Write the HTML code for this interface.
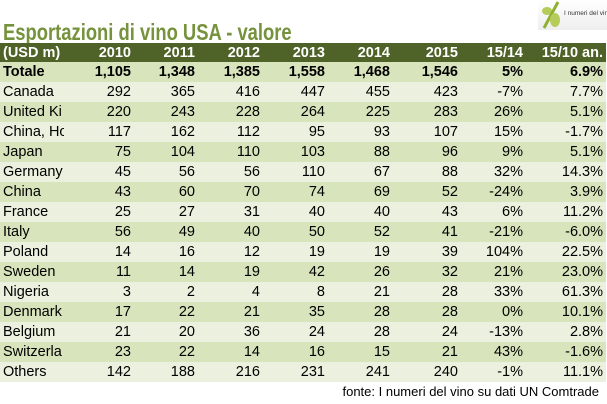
<!DOCTYPE html>
<html><head><meta charset="utf-8"><style>
body{margin:0;width:607px;height:404px;background:#fff;position:relative;overflow:hidden;font-family:"Liberation Sans",sans-serif}
.title{position:absolute;left:3px;top:19px;font-size:23px;font-weight:bold;color:#76923c;transform:scaleX(0.8);transform-origin:left;white-space:nowrap}
table{position:absolute;left:0;top:43px;border-collapse:collapse;width:606px;table-layout:fixed}
td{height:20px;padding:0 3px;font-size:14.5px;text-align:right;white-space:nowrap;overflow:hidden;box-sizing:border-box}
td:first-child{text-align:left;padding-left:3px;text-overflow:clip}
tr.h td{background:#4f6228;color:#fff;font-weight:bold;height:19px}
tr.a td{background:#d8e4bc}
tr.b td{background:#ebf1de}
tr.t td{font-weight:bold}
.src{position:absolute;right:8px;top:384px;font-size:13px;color:#000}
.logo{position:absolute;left:538px;top:0;width:69px;height:30px;background:linear-gradient(#fff,#eee)}
</style></head><body>
<div class="logo"><svg width="69" height="30"><ellipse cx="9" cy="11" rx="5" ry="4" fill="#b5cc5a"/><line x1="6" y1="28" x2="20" y2="2" stroke="#8fb030" stroke-width="3"/><ellipse cx="17" cy="20" rx="5" ry="7" fill="#b5cc5a"/><text x="26" y="15" font-size="6.5" font-family="Liberation Sans" fill="#333">I numeri del vino</text></svg></div>
<div class="title">Esportazioni di vino USA - valore</div>
<table>
<colgroup><col style="width:64px"><col style="width:70px"><col style="width:64px"><col style="width:65px"><col style="width:65px"><col style="width:65px"><col style="width:68px"><col style="width:65px"><col style="width:80px"></colgroup>
<tr class="h"><td>(USD m)</td><td>2010</td><td>2011</td><td>2012</td><td>2013</td><td>2014</td><td>2015</td><td>15/14</td><td>15/10 an.</td></tr>
<tr class="a t"><td>Totale</td><td>1,105</td><td>1,348</td><td>1,385</td><td>1,558</td><td>1,468</td><td>1,546</td><td>5%</td><td>6.9%</td></tr>
<tr class="b"><td>Canada</td><td>292</td><td>365</td><td>416</td><td>447</td><td>455</td><td>423</td><td>-7%</td><td>7.7%</td></tr>
<tr class="a"><td>United Ki</td><td>220</td><td>243</td><td>228</td><td>264</td><td>225</td><td>283</td><td>26%</td><td>5.1%</td></tr>
<tr class="b"><td>China, Ho</td><td>117</td><td>162</td><td>112</td><td>95</td><td>93</td><td>107</td><td>15%</td><td>-1.7%</td></tr>
<tr class="a"><td>Japan</td><td>75</td><td>104</td><td>110</td><td>103</td><td>88</td><td>96</td><td>9%</td><td>5.1%</td></tr>
<tr class="b"><td>Germany</td><td>45</td><td>56</td><td>56</td><td>110</td><td>67</td><td>88</td><td>32%</td><td>14.3%</td></tr>
<tr class="a"><td>China</td><td>43</td><td>60</td><td>70</td><td>74</td><td>69</td><td>52</td><td>-24%</td><td>3.9%</td></tr>
<tr class="b"><td>France</td><td>25</td><td>27</td><td>31</td><td>40</td><td>40</td><td>43</td><td>6%</td><td>11.2%</td></tr>
<tr class="a"><td>Italy</td><td>56</td><td>49</td><td>40</td><td>50</td><td>52</td><td>41</td><td>-21%</td><td>-6.0%</td></tr>
<tr class="b"><td>Poland</td><td>14</td><td>16</td><td>12</td><td>19</td><td>19</td><td>39</td><td>104%</td><td>22.5%</td></tr>
<tr class="a"><td>Sweden</td><td>11</td><td>14</td><td>19</td><td>42</td><td>26</td><td>32</td><td>21%</td><td>23.0%</td></tr>
<tr class="b"><td>Nigeria</td><td>3</td><td>2</td><td>4</td><td>8</td><td>21</td><td>28</td><td>33%</td><td>61.3%</td></tr>
<tr class="a"><td>Denmark</td><td>17</td><td>22</td><td>21</td><td>35</td><td>28</td><td>28</td><td>0%</td><td>10.1%</td></tr>
<tr class="b"><td>Belgium</td><td>21</td><td>20</td><td>36</td><td>24</td><td>28</td><td>24</td><td>-13%</td><td>2.8%</td></tr>
<tr class="a"><td>Switzerla</td><td>23</td><td>22</td><td>14</td><td>16</td><td>15</td><td>21</td><td>43%</td><td>-1.6%</td></tr>
<tr class="b"><td>Others</td><td>142</td><td>188</td><td>216</td><td>231</td><td>241</td><td>240</td><td>-1%</td><td>11.1%</td></tr>
</table>
<div class="src">fonte: I numeri del vino su dati UN Comtrade</div>
</body></html>
